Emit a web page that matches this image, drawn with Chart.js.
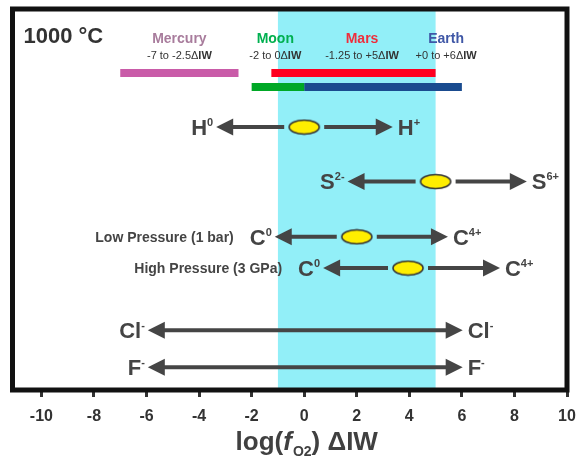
<!DOCTYPE html>
<html>
<head>
<meta charset="utf-8">
<script src="https://cdn.jsdelivr.net/npm/chart.js@4/dist/chart.umd.min.js"></script>
<style>
  html, body { margin: 0; padding: 0; background: #ffffff; }
  #wrap { width: 577px; height: 465px; }
</style>
</head>
<body>
<div id="wrap"><canvas id="c" width="577" height="465"></canvas></div>
<script>
// ---------------- data ----------------
const xTicks = [-10, -8, -6, -4, -2, 0, 2, 4, 6, 8, 10];

// planetary fO2 ranges (ΔIW)
const planets      = ['Mercury', 'Moon', 'Mars', 'Earth'];
const planetMin    = [-7, -2, -1.25, 0];
const planetMax    = [-2.5, 0, 5, 6];
const planetRanges = ['-7 to -2.5', '-2 to 0', '-1.25 to +5', '+0 to +6'];
const planetRow    = [16.8, 20.5, 16.8, 20.5];
const planetLabelX = [-4.75, -1.1, 2.2, 5.4];

// highlighted band (ΔIW)
const bandRange = [-1, 5];

// speciation rows
const species      = ['H', 'S', 'C', 'C', 'Cl', 'F'];
const reducedSup   = ['0', '2-', '0', '0', '-', '-'];
const oxidizedSup  = ['+', '6+', '4+', '4+', '-', '-'];
const centerFO2    = [0, 5, 2, 3.95, null, null];
const reducedTip   = [-3.35, 1.65, -1.12, 0.72, -5.95, -5.95];
const oxidizedTip  = [3.37, 8.47, 5.47, 7.45, 6.03, 6.03];
const rowY         = [31.0, 45.3, 59.8, 68.0, 84.3, 94.0];
const rowNotes     = ['', '', 'Low Pressure (1 bar)', 'High Pressure (3 GPa)', '', ''];

// ---------------- styles ----------------
const FAMILY = '"Liberation Sans", Arial, Helvetica, sans-serif';
const barColors  = ['#C95BA8', '#00A826', '#FF0020', '#1A4B8F'];
const nameColors = ['#A87C9C', '#00B050', '#EE2E3C', '#3F57A6'];
const DARK = '#444444';

function font(size, weight, style) {
  return (style || 'normal') + ' ' + (weight || 'bold') + ' ' + size + 'px ' + FAMILY;
}
function richWidth(ctx, runs) {
  let w = 0;
  runs.forEach(r => { ctx.font = font(r.size, r.weight, r.style); w += ctx.measureText(r.t).width + (r.gap || 0); });
  return w;
}
function drawRich(ctx, runs, x, y, align) {
  const w = richWidth(ctx, runs);
  let cx = align === 'right' ? x - w : (align === 'center' ? x - w / 2 : x);
  ctx.textAlign = 'left';
  ctx.textBaseline = 'alphabetic';
  runs.forEach(r => {
    ctx.font = font(r.size, r.weight, r.style);
    ctx.fillStyle = r.color || DARK;
    ctx.fillText(r.t, cx, y + (r.dy || 0));
    cx += ctx.measureText(r.t).width + (r.gap || 0);
  });
}

// ellipse marker image
function ellipseImage() {
  const cv = document.createElement('canvas');
  cv.width = 34; cv.height = 17;
  const c = cv.getContext('2d');
  c.beginPath();
  c.ellipse(17, 8.5, 15, 7, 0, 0, Math.PI * 2);
  c.fillStyle = '#FFEE00';
  c.fill();
  c.lineWidth = 1.6;
  c.strokeStyle = '#333333';
  c.stroke();
  return cv;
}
const ellipseImg = ellipseImage();

// ---------------- datasets ----------------
const datasets = [];
planets.forEach((p, i) => {
  datasets.push({
    type: 'line',
    label: p,
    data: [{ x: planetMin[i], y: planetRow[i] }, { x: planetMax[i], y: planetRow[i] }],
    borderColor: barColors[i],
    borderWidth: 8,
    borderCapStyle: 'butt',
    pointRadius: 0,
    fill: false
  });
});
const centerPts = [];
centerFO2.forEach((c, i) => { if (c !== null) centerPts.push({ x: c, y: rowY[i] }); });
datasets.push({
  type: 'scatter',
  label: 'centers',
  data: centerPts,
  pointStyle: ellipseImg,
  pointRadius: 8,
  pointHoverRadius: 8
});
// arrow endpoints (drawn as arrows by plugin)
const arrowStart = datasets.length;
species.forEach((s, i) => {
  const pts = [{ x: reducedTip[i], y: rowY[i] }];
  if (centerFO2[i] !== null) pts.push({ x: centerFO2[i], y: rowY[i] });
  pts.push({ x: oxidizedTip[i], y: rowY[i] });
  datasets.push({
    type: 'scatter',
    label: 'arrow-' + i,
    data: pts,
    pointRadius: 0,
    showLine: false
  });
});

// ---------------- plugins ----------------
const bandPlugin = {
  id: 'band',
  beforeDatasetsDraw(chart) {
    const { ctx, chartArea: a, scales: { x } } = chart;
    const x0 = x.getPixelForValue(bandRange[0]);
    const x1 = x.getPixelForValue(bandRange[1]);
    ctx.save();
    ctx.fillStyle = '#92EFF8';
    ctx.fillRect(x0, a.top, x1 - x0, a.bottom - a.top);
    ctx.restore();
  }
};

const HEAD_LEN = 17, HEAD_HALF = 8.5, GAP = 20;
function head(ctx, tx, y, dir) {
  ctx.beginPath();
  ctx.moveTo(tx, y);
  ctx.lineTo(tx - dir * HEAD_LEN, y - HEAD_HALF);
  ctx.lineTo(tx - dir * HEAD_LEN, y + HEAD_HALF);
  ctx.closePath();
  ctx.fill();
}
function shaft(ctx, x0, x1, y) {
  ctx.beginPath();
  ctx.moveTo(x0, y);
  ctx.lineTo(x1, y);
  ctx.stroke();
}

const arrowPlugin = {
  id: 'arrows',
  afterDatasetsDraw(chart) {
    const ctx = chart.ctx;
    ctx.save();
    ctx.strokeStyle = '#454545';
    ctx.fillStyle = '#454545';
    ctx.lineWidth = 4;
    ctx.lineCap = 'butt';
    species.forEach((s, i) => {
      const pts = chart.getDatasetMeta(arrowStart + i).data;
      const L = pts[0], R = pts[pts.length - 1];
      const y = L.y;
      if (pts.length === 3) {
        const C = pts[1];
        shaft(ctx, C.x - GAP, L.x + HEAD_LEN - 2, y);
        shaft(ctx, C.x + GAP, R.x - HEAD_LEN + 2, y);
      } else {
        shaft(ctx, L.x + HEAD_LEN - 2, R.x - HEAD_LEN + 2, y);
      }
      head(ctx, L.x, y, -1);
      head(ctx, R.x, y, 1);
    });
    ctx.restore();
  }
};

const framePlugin = {
  id: 'frame',
  afterDraw(chart) {
    const { ctx, chartArea: a, scales: { x, y } } = chart;
    ctx.save();
    // frame
    ctx.strokeStyle = '#111111';
    ctx.lineWidth = 5;
    ctx.strokeRect(a.left, a.top, a.right - a.left, a.bottom - a.top);

    // temperature
    ctx.font = font(22);
    ctx.fillStyle = '#333333';
    ctx.textAlign = 'left';
    ctx.textBaseline = 'alphabetic';
    ctx.fillText('1000 \u00B0C', a.left + 11, a.top + 34);

    // planet headers
    planets.forEach((p, i) => {
      const px = x.getPixelForValue(planetLabelX[i]);
      drawRich(ctx, [{ t: p, size: 14, color: nameColors[i] }], px, y.getPixelForValue(9.0), 'center');
      drawRich(ctx, [
        { t: planetRanges[i], size: 11, weight: 'normal', color: '#333' },
        { t: '\u0394', size: 11, weight: 'normal', color: '#333' },
        { t: 'IW', size: 11, weight: 'bold', color: '#333' }
      ], px, y.getPixelForValue(13.2), 'center');
    });

    // species labels
    species.forEach((s, i) => {
      const pts = chart.getDatasetMeta(arrowStart + i).data;
      const L = pts[0], R = pts[pts.length - 1];
      const base = L.y + 7.8;
      drawRich(ctx, [
        { t: s, size: 22, color: DARK },
        { t: reducedSup[i], size: 11, dy: -9, color: DARK }
      ], L.x - 3, base, 'right');
      drawRich(ctx, [
        { t: s, size: 22, color: DARK },
        { t: oxidizedSup[i], size: 11, dy: -9, color: DARK }
      ], R.x + 5, base, 'left');
      if (rowNotes[i]) {
        drawRich(ctx, [{ t: rowNotes[i], size: 14, color: DARK }], L.x - 41, L.y + 5, 'right');
      }
    });

    // axis title
    drawRich(ctx, [
      { t: 'log(', size: 26, color: '#404040' },
      { t: 'f', size: 26, style: 'italic', color: '#404040', gap: 1 },
      { t: 'O2', size: 14, dy: 6, color: '#404040' },
      { t: ') \u0394IW', size: 26, color: '#404040' }
    ], (a.left + a.right) / 2 + 17, 450, 'center');
    ctx.restore();
  }
};

// ---------------- chart ----------------
new Chart(document.getElementById('c'), {
  data: { datasets },
  options: {
    responsive: false,
    animation: false,
    events: [],
    layout: { padding: { left: 12.5, right: 10, top: 9, bottom: 0 } },
    plugins: { legend: { display: false }, tooltip: { enabled: false } },
    scales: {
      x: {
        type: 'linear',
        min: -11.1,
        max: 10,
        afterBuildTicks(s) { s.ticks = xTicks.map(v => ({ value: v })); },
        afterFit(s) { s.height = 75; s.paddingLeft = 0; s.paddingRight = 0; },
        border: { display: false },
        grid: { drawOnChartArea: false, drawTicks: true, tickLength: 7, lineWidth: 3, color: '#333333', tickColor: '#333333' },
        ticks: { font: { family: FAMILY, size: 16, weight: 'bold' }, color: '#333333', padding: 10, maxRotation: 0, autoSkip: false }
      },
      y: {
        type: 'linear',
        min: 0,
        max: 100,
        reverse: true,
        display: false
      }
    }
  },
  plugins: [bandPlugin, arrowPlugin, framePlugin]
});
</script>
</body>
</html>
